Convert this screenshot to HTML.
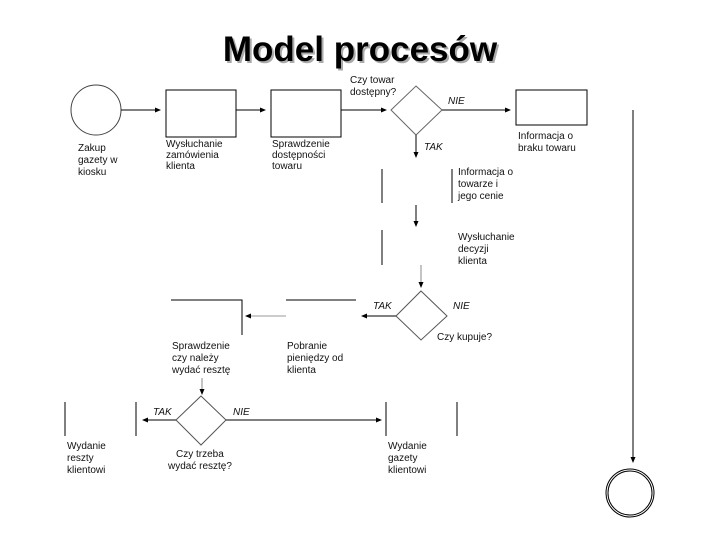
<!DOCTYPE html>
<html><head><meta charset="utf-8"><style>
body{margin:0;background:#fff;}
svg text{font-family:"Liberation Sans",sans-serif;font-size:10px;fill:#111;}
</style></head><body>
<svg width="720" height="540" xmlns="http://www.w3.org/2000/svg">
<defs><marker id="a" markerWidth="6" markerHeight="6" refX="5" refY="3" orient="auto"><path d="M0,0.5L6,3L0,5.5z" fill="#000"/></marker></defs>
<text x="362" y="63" text-anchor="middle" style="font-size:35px;font-weight:bold;fill:#aaa">Model procesów</text>
<text x="360" y="61" text-anchor="middle" style="font-size:35px;font-weight:bold;fill:#000">Model procesów</text>
<g stroke="#000" fill="none" stroke-width="1">
<circle cx="96" cy="110" r="25" stroke="#444"/>
<line x1="121" y1="110" x2="160" y2="110" marker-end="url(#a)"/>
<rect x="166" y="90" width="70" height="47"/>
<line x1="236" y1="110" x2="265" y2="110" marker-end="url(#a)"/>
<rect x="271" y="90" width="70" height="47"/>
<line x1="341" y1="110" x2="386" y2="110" marker-end="url(#a)"/>
<path d="M416,86L442,110L416,135L391,110Z" stroke="#666"/>
<line x1="442" y1="110" x2="510" y2="110" marker-end="url(#a)"/>
<rect x="516" y="90" width="71" height="35"/>
<line x1="416" y1="135" x2="416" y2="157" marker-end="url(#a)"/>
<line x1="382" y1="169" x2="382" y2="203"/>
<line x1="452" y1="169" x2="452" y2="203"/>
<line x1="416" y1="205" x2="416" y2="226" marker-end="url(#a)"/>
<line x1="382" y1="230" x2="382" y2="265"/>
<line x1="421" y1="265" x2="421" y2="287" stroke="#888" marker-end="url(#a)"/>
<line x1="633" y1="110" x2="633" y2="462" marker-end="url(#a)"/>
<circle cx="630" cy="493" r="24"/>
<circle cx="630" cy="493" r="22"/>
<path d="M421,291L447,316L421,340L396,316Z" stroke="#555"/>
<line x1="396" y1="316" x2="362" y2="316" marker-end="url(#a)"/>
<path d="M171,300H242V335"/>
<line x1="286" y1="300" x2="356" y2="300"/>
<line x1="286" y1="316" x2="246" y2="316" stroke="#999" marker-end="url(#a)"/>
<line x1="202" y1="378" x2="202" y2="394" stroke="#888" marker-end="url(#a)"/>
<path d="M201,396L226,420L201,445L176,420Z" stroke="#555"/>
<line x1="176" y1="420" x2="143" y2="420" marker-end="url(#a)"/>
<line x1="226" y1="420" x2="381" y2="420" marker-end="url(#a)"/>
<line x1="65" y1="402" x2="65" y2="436"/>
<line x1="136" y1="402" x2="136" y2="436"/>
<line x1="386" y1="402" x2="386" y2="436"/>
<line x1="457" y1="402" x2="457" y2="436"/>
</g>
<text x="78" y="151">Zakup</text><text x="78" y="163">gazety w</text><text x="78" y="175">kiosku</text>
<text x="166" y="147">Wysłuchanie</text><text x="166" y="158">zamówienia</text><text x="166" y="169">klienta</text>
<text x="272" y="147">Sprawdzenie</text><text x="272" y="158">dostępności</text><text x="272" y="169">towaru</text>
<text x="350" y="83">Czy towar</text><text x="350" y="95">dostępny?</text>
<text x="448" y="104" font-style="italic">NIE</text>
<text x="424" y="150" font-style="italic">TAK</text>
<text x="518" y="139">Informacja o</text><text x="518" y="151">braku towaru</text>
<text x="458" y="175">Informacja o</text><text x="458" y="187">towarze i</text><text x="458" y="199">jego cenie</text>
<text x="458" y="240">Wysłuchanie</text><text x="458" y="252">decyzji</text><text x="458" y="264">klienta</text>
<text x="373" y="309" font-style="italic">TAK</text>
<text x="453" y="309" font-style="italic">NIE</text>
<text x="437" y="340">Czy kupuje?</text>
<text x="172" y="349">Sprawdzenie</text><text x="172" y="361">czy należy</text><text x="172" y="373">wydać resztę</text>
<text x="287" y="349">Pobranie</text><text x="287" y="361">pieniędzy od</text><text x="287" y="373">klienta</text>
<text x="153" y="415" font-style="italic">TAK</text>
<text x="233" y="415" font-style="italic">NIE</text>
<text x="176" y="457">Czy trzeba</text><text x="168" y="469">wydać resztę?</text>
<text x="67" y="449">Wydanie</text><text x="67" y="461">reszty</text><text x="67" y="473">klientowi</text>
<text x="388" y="449">Wydanie</text><text x="388" y="461">gazety</text><text x="388" y="473">klientowi</text>
</svg>
</body></html>
